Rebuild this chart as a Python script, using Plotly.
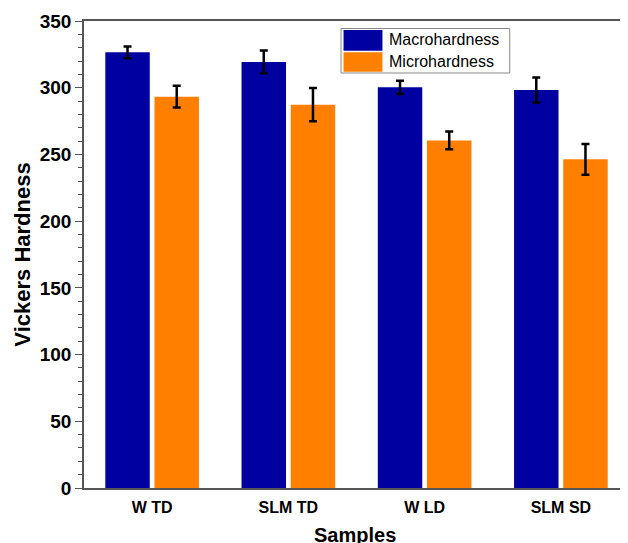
import plotly.graph_objects as go

categories = ["W TD", "SLM TD", "W LD", "SLM SD"]
macro = [326.5, 319.3, 300.3, 298.3]
macro_err = [4.4, 8.5, 5.0, 9.4]
micro = [293.3, 287.3, 260.5, 246.3]
micro_err = [8.2, 12.4, 6.6, 11.5]
series_names = ["Macrohardness", "Microhardness"]
colors = ["#0000a0", "#ff8000"]
ytick_vals = [0, 50, 100, 150, 200, 250, 300, 350]
x_title = "Samples"
y_title = "Vickers Hardness"

W, H = 628, 543
OFF = 8  # page body offset
L, R, T, B = 75.5, 6.5, 13, 63
pw, ph = W - L - R, H - T - B

fig = go.Figure()
for name, vals, errs, col in zip(series_names, [macro, micro], [macro_err, micro_err], colors):
    fig.add_trace(go.Bar(
        x=categories, y=vals, name=name, marker_color=col,
        marker_line=dict(color=col, width=0),
        error_y=dict(type="data", array=errs, color="black", thickness=2.5, width=4),
        showlegend=False,
    ))
# helper trace so the right-hand mirrored tick axis is drawn
fig.add_trace(go.Scatter(x=[categories[0]], y=[0], yaxis="y2", mode="markers",
                         marker=dict(opacity=0), showlegend=False, hoverinfo="skip"))

tickfont_y = dict(family="Liberation Sans, Arial", size=19, color="black", weight="bold")
tickfont_x = dict(family="Liberation Sans, Arial", size=16, color="black", weight="bold")
xtitlefont = dict(family="Liberation Sans, Arial", size=20, color="black", weight="bold")
ytitlefont = dict(family="Liberation Sans, Arial", size=22, color="black", weight="bold")

fig.update_layout(
    width=W, height=H,
    margin=dict(l=L, r=R, t=T, b=B, autoexpand=False),
    paper_bgcolor="white", plot_bgcolor="white",
    barmode="group", bargap=0.278, bargroupgap=0.096,
    xaxis=dict(
        range=[-0.5, 3.5], showline=True, linecolor="#555", linewidth=1.5, mirror=True,
        ticks="outside", ticklen=4, tickcolor="rgba(0,0,0,0)", tickfont=tickfont_x,
        showgrid=False, zeroline=False,
    ),
    yaxis=dict(
        range=[0, 350], tickvals=ytick_vals, showline=True, linecolor="#555", linewidth=1.5,
        ticks="outside", ticklen=7, tickwidth=1.2, tickcolor="#555", tickfont=tickfont_y,
        minor=dict(dtick=10, ticks="outside", ticklen=4, tickwidth=1, tickcolor="#555"),
        title=dict(text=y_title, font=ytitlefont, standoff=3),
        showgrid=False, zeroline=False,
    ),
    yaxis2=dict(
        range=[0, 350], tickvals=ytick_vals, overlaying="y", side="right",
        ticks="inside", ticklen=7, tickwidth=1.2, tickcolor="#555", showticklabels=False,
        minor=dict(dtick=10, ticks="inside", ticklen=4, tickwidth=1, tickcolor="#555"),
        showline=False, showgrid=False, zeroline=False,
    ),
)

def px_x(x):
    return (x - OFF - L) / pw

def px_y(y):
    return (T + ph - (y - OFF)) / ph

# x-axis title (placed as annotation so it can sit where the reference has it)
fig.add_annotation(xref="paper", yref="paper", x=px_x(355), y=px_y(535),
                   text=x_title, showarrow=False, xanchor="center", yanchor="middle",
                   font=xtitlefont)

# legend box
fig.add_shape(type="rect", xref="paper", yref="paper",
              x0=px_x(341), x1=px_x(510), y0=px_y(73), y1=px_y(28.5),
              line=dict(color="#888", width=1), fillcolor="white")
rows = [(30, 50.7, 39.5), (52.3, 71.7, 61.5)]
for (ya, yb, yc), name, col in zip(rows, series_names, colors):
    fig.add_shape(type="rect", xref="paper", yref="paper",
                  x0=px_x(343.5), x1=px_x(382.5), y0=px_y(yb), y1=px_y(ya),
                  line=dict(width=0), fillcolor=col)
    fig.add_annotation(xref="paper", yref="paper", x=px_x(387), y=px_y(yc),
                       text=name, showarrow=False, xanchor="left", yanchor="middle",
                       font=dict(family="Liberation Sans, Arial", size=16, color="black"))

fig.write_html("out.html")
